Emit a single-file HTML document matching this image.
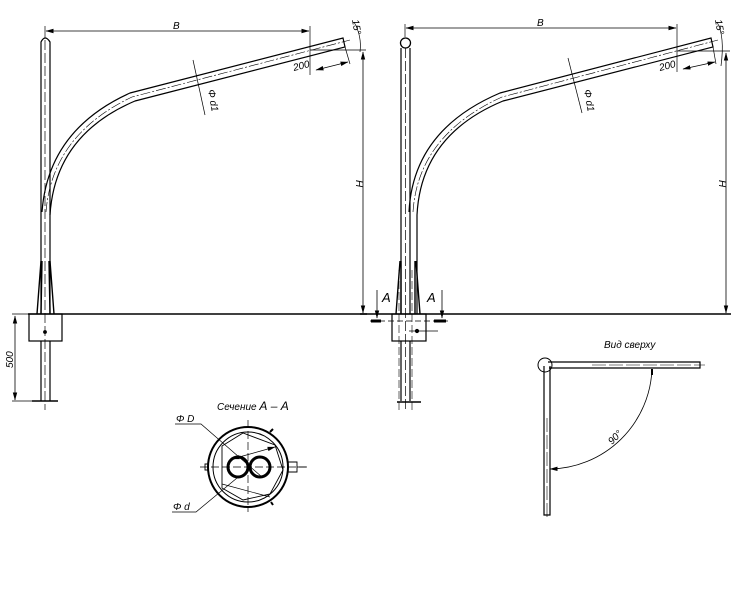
<!DOCTYPE html>
<html><head><meta charset="utf-8"><style>
html,body{margin:0;padding:0;background:#fff;}
svg{display:block;font-family:"Liberation Sans",sans-serif;font-style:italic;}
</style></head><body>
<svg width="736" height="609" viewBox="0 0 736 609" xmlns="http://www.w3.org/2000/svg">
<defs>
<marker id="ar" markerWidth="8" markerHeight="6" refX="7.5" refY="3" orient="auto-start-reverse" markerUnits="userSpaceOnUse"><path d="M0,0.8 L8,3 L0,5.2z" fill="#000"/></marker>
</defs>
<g fill="none" stroke="#000" stroke-width="1.2">
<!-- LEFT POLE -->
<path d="M41,314 V42 Q45,34 50,42 V314"/>
<path d="M45,40 V410" stroke-width="0.7" stroke-dasharray="10,3"/>
<path d="M42,212 Q48,130 130,93 L343,38 L345,47 L135,101 Q55,135 50,215"/>
<path d="M46,212 Q52,135 132,97 L350,40" stroke-width="0.6" stroke-dasharray="10,2,2,2"/>
<path d="M41,261 L37,314 M42,261 L41,314 M50,261 L54,314 M49,261 L50,314" stroke-width="1.4"/>
<line x1="28" y1="314" x2="367" y2="314" stroke-width="1.4"/>
<rect x="29" y="314" width="33" height="27"/>
<path d="M41,341 V401 M50,341 V401"/>
<line x1="32" y1="401" x2="58" y2="401" stroke-width="1.6"/>
<circle cx="45" cy="332" r="1.3" fill="#000"/>
<line x1="15" y1="316" x2="15" y2="400" stroke-width="0.8" marker-start="url(#ar)" marker-end="url(#ar)"/>
<line x1="12" y1="314" x2="29" y2="314" stroke-width="0.8"/>
<line x1="12" y1="401" x2="32" y2="401" stroke-width="0.8"/>
<!-- dims left -->
<line x1="45" y1="26" x2="45" y2="38" stroke-width="0.7"/>
<line x1="310" y1="26" x2="310" y2="75" stroke-width="0.7"/>
<line x1="46" y1="31" x2="309" y2="31" stroke-width="0.8" marker-start="url(#ar)" marker-end="url(#ar)"/>
<line x1="310" y1="50" x2="366" y2="50" stroke-width="0.7"/>
<line x1="363" y1="52" x2="363" y2="313" stroke-width="0.8" marker-start="url(#ar)" marker-end="url(#ar)"/>
<line x1="345" y1="47" x2="350" y2="64" stroke-width="0.7"/>
<line x1="316" y1="70" x2="348" y2="62" stroke-width="0.8" marker-start="url(#ar)" marker-end="url(#ar)"/>
<line x1="193" y1="60" x2="205" y2="115" stroke-width="0.7"/>
<path d="M354,22 Q362,36 360,52" stroke-width="0.7"/>
<!-- RIGHT POLE -->
<path d="M401,314 V48 M410,314 V48"/>
<circle cx="405.5" cy="43" r="5" stroke-width="1.3"/>
<path d="M405.5,48 V410" stroke-width="0.7" stroke-dasharray="10,3"/>
<path d="M399,270 V410 M412,270 V410" stroke-width="0.6" stroke-dasharray="8,3"/>
<path d="M409,212 Q413,130 500,93 L711,38 L713,47 L503,101 Q421,135 417,215 V314"/>
<path d="M413,212 Q418,135 502,97 L718,40" stroke-width="0.6" stroke-dasharray="10,2,2,2"/>
<path d="M400,261 L396,314 M401,261 L401,314 M416,261 L420,314 M415,261 L415,314" stroke-width="1.4"/>
<line x1="360" y1="314" x2="731" y2="314" stroke-width="1.4"/>
<rect x="392" y="314" width="34" height="27"/>
<path d="M401,341 V401 M410,341 V401"/>
<line x1="397" y1="402" x2="421" y2="402" stroke-width="1.6"/>
<line x1="370" y1="321" x2="448" y2="321" stroke-width="0.7" stroke-dasharray="6,3"/>
<path d="M371,321 H381 M434,321 H446" stroke-width="3"/>
<line x1="377" y1="290" x2="377" y2="318" stroke-width="0.8" marker-end="url(#ar)"/>
<line x1="442" y1="290" x2="442" y2="318" stroke-width="0.8" marker-end="url(#ar)"/>
<line x1="409" y1="331" x2="438" y2="331" stroke-width="0.8"/>
<circle cx="417" cy="331" r="1.5" fill="#000"/>
<!-- dims right -->
<line x1="405" y1="24" x2="405" y2="37" stroke-width="0.7"/>
<line x1="677" y1="24" x2="677" y2="72" stroke-width="0.7"/>
<line x1="406" y1="28" x2="676" y2="28" stroke-width="0.8" marker-start="url(#ar)" marker-end="url(#ar)"/>
<line x1="677" y1="51" x2="730" y2="51" stroke-width="0.7"/>
<line x1="726" y1="53" x2="726" y2="313" stroke-width="0.8" marker-start="url(#ar)" marker-end="url(#ar)"/>
<line x1="713" y1="47" x2="716" y2="64" stroke-width="0.7"/>
<line x1="683" y1="69" x2="715" y2="62" stroke-width="0.8" marker-start="url(#ar)" marker-end="url(#ar)"/>
<line x1="568" y1="58" x2="582" y2="113" stroke-width="0.7"/>
<path d="M717,22 Q725,36 721,66" stroke-width="0.7"/>
<!-- SECTION -->
<circle cx="248" cy="467" r="40" stroke-width="2"/>
<circle cx="248" cy="467" r="35" stroke-width="1"/>
<circle cx="238" cy="467" r="10" stroke-width="3"/>
<circle cx="260" cy="467" r="10" stroke-width="3"/>
<path d="M222,446 L243,433 L275,445 L283,470 L270,494 L243,500 L222,488 Z" stroke-width="0.9"/>
<line x1="200" y1="467" x2="310" y2="467" stroke-width="0.7" stroke-dasharray="8,3"/>
<line x1="248" y1="420" x2="248" y2="512" stroke-width="0.7" stroke-dasharray="8,3"/>
<path d="M205,464 v6 h3 v-6z M288,462 h9 v10 h-9z" stroke-width="0.9"/>
<line x1="297" y1="467" x2="306" y2="467" stroke-width="0.8"/>
<path d="M270,432 l3,-3 M271,502 l2,3" stroke-width="2"/>
<polyline points="175,424 201,424 262,477" stroke-width="0.7"/>
<line x1="232" y1="459" x2="275" y2="447" stroke-width="0.7" marker-start="url(#ar)" marker-end="url(#ar)"/>
<polyline points="172,512 196,512 237,478" stroke-width="0.7"/>
<line x1="222" y1="484" x2="270" y2="497" stroke-width="0.7"/>
<!-- TOP VIEW -->
<circle cx="545" cy="365" r="7" stroke-width="1"/>
<path d="M548,362 H700 V368 H549"/>
<path d="M544,366 V515 H550 V366"/>
<line x1="592" y1="365" x2="705" y2="365" stroke-width="0.6" stroke-dasharray="14,3"/>
<line x1="547" y1="418" x2="547" y2="518" stroke-width="0.6" stroke-dasharray="14,3"/>
<path d="M652,369 A104,104 0 0 1 550,469" stroke-width="0.8" marker-end="url(#ar)"/>
<line x1="652" y1="369" x2="652" y2="375" stroke-width="2"/>
</g>
<g fill="#000" font-size="10">
<text x="173" y="29">B</text>
<text x="537" y="26">B</text>
<text x="294" y="71" transform="rotate(-14 294 71)">200</text>
<text x="660" y="71" transform="rotate(-14 660 71)">200</text>
<text x="0" y="0" transform="translate(352,20) rotate(80)">15°</text>
<text x="0" y="0" transform="translate(715,20) rotate(80)">15°</text>
<text x="0" y="0" transform="translate(208,90) rotate(80)">Φ d1</text>
<text x="0" y="0" transform="translate(584,90) rotate(80)">Φ d1</text>
<text x="0" y="0" transform="translate(356,180) rotate(90)">H</text>
<text x="0" y="0" transform="translate(719,180) rotate(90)">H</text>
<text x="0" y="0" transform="translate(13,368) rotate(-90)">500</text>
<text x="382" y="302" font-size="13">A</text>
<text x="427" y="302" font-size="13">A</text>
<text x="217" y="410">Сечение  <tspan font-size="12">А – А</tspan></text>
<text x="176" y="422">Φ D</text>
<text x="173" y="510">Φ d</text>
<text x="604" y="348">Вид  сверху</text>
<text x="0" y="0" transform="translate(612,445) rotate(-45)">90°</text>
</g>
</svg>
</body></html>
